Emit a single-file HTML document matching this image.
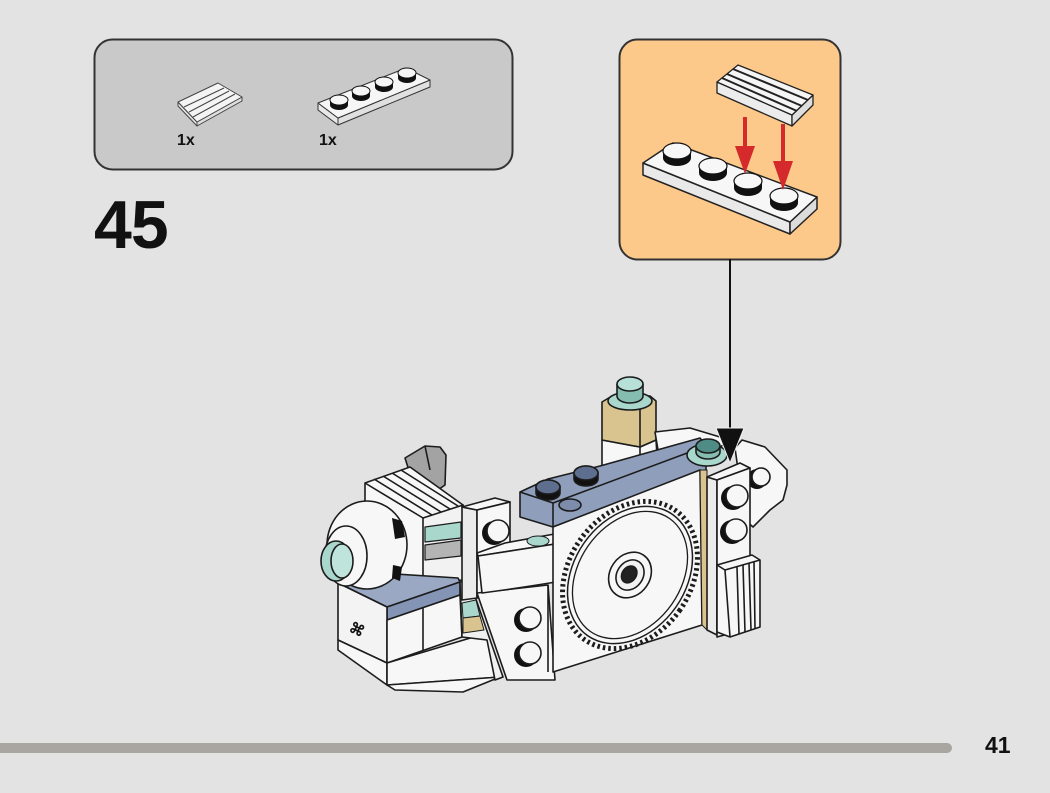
<!DOCTYPE html>
<html>
<head>
<meta charset="utf-8">
<style>
html,body{margin:0;padding:0;background:#e3e3e3;}
svg{display:block;}
text{font-family:"Liberation Sans",sans-serif;font-weight:bold;fill:#111;}
</style>
</head>
<body>
<svg width="1050" height="793" viewBox="0 0 1050 793" xmlns="http://www.w3.org/2000/svg">
<rect x="0" y="0" width="1050" height="793" fill="#e3e3e3"/>

<!-- Parts box -->
<rect x="94.5" y="39.5" width="418" height="130" rx="18" fill="#c9c9c9" stroke="#333" stroke-width="2"/>
<!-- grille tile small -->
<g stroke="#444" stroke-width="1" stroke-linejoin="round">
  <polygon points="178,102 197,122 197,126 178,106" fill="#e6e6e6"/>
  <polygon points="197,122 242,97 242,101 197,126" fill="#dedede"/>
  <polygon points="178,102 218,83 242,97 197,122" fill="#f4f4f4"/>
  <line x1="184" y1="107" x2="224" y2="88"/>
  <line x1="189" y1="112" x2="229" y2="91"/>
  <line x1="193" y1="117" x2="235" y2="94"/>
</g>
<!-- plate 1x4 small -->
<g stroke="#333" stroke-width="1" stroke-linejoin="round">
  <polygon points="318,103 338,118 338,125 318,110" fill="#e8e8e8"/>
  <polygon points="338,118 430,80 430,87 338,125" fill="#e0e0e0"/>
  <polygon points="318,103 406,68 430,80 338,118" fill="#f6f6f6"/>
</g>
<g>
  <g transform="translate(339,105)"><path d="M-9,0 v-5 a9,5 0 0 1 18,0 v5 a9,5 0 0 1 -18,0z" fill="#111"/><ellipse cx="0" cy="-5" rx="9" ry="5" fill="#f6f6f6" stroke="#111" stroke-width="1"/></g>
  <g transform="translate(361,96)"><path d="M-9,0 v-5 a9,5 0 0 1 18,0 v5 a9,5 0 0 1 -18,0z" fill="#111"/><ellipse cx="0" cy="-5" rx="9" ry="5" fill="#f6f6f6" stroke="#111" stroke-width="1"/></g>
  <g transform="translate(384,87)"><path d="M-9,0 v-5 a9,5 0 0 1 18,0 v5 a9,5 0 0 1 -18,0z" fill="#111"/><ellipse cx="0" cy="-5" rx="9" ry="5" fill="#f6f6f6" stroke="#111" stroke-width="1"/></g>
  <g transform="translate(407,78)"><path d="M-9,0 v-5 a9,5 0 0 1 18,0 v5 a9,5 0 0 1 -18,0z" fill="#111"/><ellipse cx="0" cy="-5" rx="9" ry="5" fill="#f6f6f6" stroke="#111" stroke-width="1"/></g>
</g>
<text x="177" y="145" font-size="16">1x</text>
<text x="319" y="145" font-size="16">1x</text>

<!-- Step number -->
<text x="94" y="248" font-size="68" letter-spacing="-1">45</text>

<!-- Callout -->
<rect x="619.5" y="39.5" width="221" height="220" rx="18" fill="#fdc98a" stroke="#333" stroke-width="2"/>
<!-- callout plate -->
<g stroke="#222" stroke-width="1.5" stroke-linejoin="round">
  <polygon points="643,163 790,222 790,234 643,175" fill="#e9e9e9"/>
  <polygon points="790,222 817,197 817,209 790,234" fill="#dcdcdc"/>
  <polygon points="643,163 673,143 817,197 790,222" fill="#f7f7f7"/>
</g>
<g>
  <g transform="translate(677,158)"><path d="M-14,0 v-7 a14,8 0 0 1 28,0 v7 a14,8 0 0 1 -28,0z" fill="#111"/><ellipse cx="0" cy="-7" rx="14" ry="8" fill="#f7f7f7" stroke="#111" stroke-width="1.2"/></g>
  <g transform="translate(713,173)"><path d="M-14,0 v-7 a14,8 0 0 1 28,0 v7 a14,8 0 0 1 -28,0z" fill="#111"/><ellipse cx="0" cy="-7" rx="14" ry="8" fill="#f7f7f7" stroke="#111" stroke-width="1.2"/></g>
  <g transform="translate(748,188)"><path d="M-14,0 v-7 a14,8 0 0 1 28,0 v7 a14,8 0 0 1 -28,0z" fill="#111"/><ellipse cx="0" cy="-7" rx="14" ry="8" fill="#f7f7f7" stroke="#111" stroke-width="1.2"/></g>
  <g transform="translate(784,203)"><path d="M-14,0 v-7 a14,8 0 0 1 28,0 v7 a14,8 0 0 1 -28,0z" fill="#111"/><ellipse cx="0" cy="-7" rx="14" ry="8" fill="#f7f7f7" stroke="#111" stroke-width="1.2"/></g>
</g>
<!-- callout grille tile -->
<g stroke="#222" stroke-width="1.3" stroke-linejoin="round">
  <polygon points="717,82 792,115 792,126 717,93" fill="#ececec"/>
  <polygon points="792,115 813,95 813,105 792,126" fill="#dedede"/>
  <polygon points="717,82 738,65 813,95 792,115" fill="#f5f5f5"/>
  <line x1="722" y1="78" x2="797" y2="111" stroke-width="2"/>
  <line x1="727" y1="74" x2="802" y2="106" stroke-width="2"/>
  <line x1="733" y1="69" x2="808" y2="100" stroke-width="2"/>
</g>
<!-- red arrows -->
<g fill="#d42a2c" stroke="none">
  <rect x="743" y="117" width="4" height="34"/>
  <polygon points="735,146 755,146 745,174"/>
  <rect x="781" y="124" width="4" height="42"/>
  <polygon points="773,161 793,161 783,190"/>
</g>

<!-- ===== Main model ===== -->
<g stroke="#1c1c1c" stroke-width="1.6" stroke-linejoin="round" fill="#f7f7f7">
  <!-- right rear wedge -->
  <polygon points="735,448 742,440 765,447 787,470 787,485 783,500 770,510 753,527 745,520"/>
  <circle cx="757" cy="479" r="10" fill="#111" stroke="none"/>
  <circle cx="761" cy="477" r="9"/>

  <!-- tan column + white base -->
  <polygon points="602,440 640,447 656,440 658,470 602,470"/>
  <polygon points="602,402 612,396 650,396 656,401 656,440 640,447 602,440" fill="#d9c48f"/>
  <line x1="640" y1="405" x2="640" y2="447"/>
  <line x1="640" y1="447" x2="640" y2="470"/>
  <!-- white top face right of tan -->
  <polygon points="655,432 690,428 730,440 705,458 660,462"/>
  <!-- trans stud on tan -->
  <ellipse cx="630" cy="401" rx="22" ry="9" fill="#a9d7cc"/>
  <path d="M617,384 v12 a13,7 0 0 0 26,0 v-12" fill="#86bdb1"/>
  <ellipse cx="630" cy="384" rx="13" ry="7" fill="#b7e1d8"/>

  <!-- blue plate -->
  <polygon points="520,492 548,479 600,466 700,438 706,446 706,470 553,527 520,517" fill="#8f9ebb"/>
  <line x1="520" y1="492" x2="553" y2="503"/>
  <line x1="553" y1="503" x2="553" y2="527"/>
  <line x1="553" y1="503" x2="706" y2="446"/>
  <!-- blue studs -->
  <g transform="translate(548,493)"><path d="M-12,0 v-6 a12,7 0 0 1 24,0 v6 a12,7 0 0 1 -24,0z" fill="#111"/><ellipse cx="0" cy="-6" rx="12" ry="7" fill="#5e6e8e"/></g>
  <g transform="translate(586,479)"><path d="M-12,0 v-6 a12,7 0 0 1 24,0 v6 a12,7 0 0 1 -24,0z" fill="#111"/><ellipse cx="0" cy="-6" rx="12" ry="7" fill="#5e6e8e"/></g>
  <ellipse cx="570" cy="505" rx="11" ry="6" fill="#7d8cab"/>

  <!-- grey clip behind grille -->
  <polygon points="405,458 425,446 440,447 446,455 445,485 435,492 412,480" fill="#a3a3a3"/>
  <line x1="425" y1="446" x2="430" y2="470"/>

  <!-- grille block -->
  <polygon points="365,483 410,467 463,505 463,580 423,583 365,565"/>
  <polygon points="423,518 463,505 463,580 423,583" fill="#f2f2f2"/>
  <line x1="365" y1="483" x2="423" y2="518"/>
  <line x1="374" y1="479" x2="432" y2="515"/>
  <line x1="383" y1="476" x2="441" y2="512"/>
  <line x1="392" y1="473" x2="450" y2="509"/>
  <line x1="401" y1="470" x2="458" y2="506"/>
  <polygon points="425,527 461,522 461,538 425,542" fill="#a9d7cc" stroke-width="1.2"/>
  <polygon points="425,545 461,540 461,556 425,560" fill="#b4b4b4" stroke-width="1.2"/>

  <!-- blue slab (left) -->
  <polygon points="338,583 365,572 458,578 460,582 387,607" fill="#9aa8c4"/>
  <polygon points="387,607 460,582 460,595 387,620" fill="#8394b4"/>

  <!-- left white block -->
  <polygon points="338,583 387,607 387,663 338,640" fill="#f3f3f3"/>
  <polygon points="387,620 460,595 462,637 387,663"/>
  <line x1="423" y1="608" x2="423" y2="650"/>
  <!-- symbol on left face -->
  <text x="350" y="634" font-size="15" fill="#222" stroke="none" transform="rotate(25 356 628)">⌘</text>
  <!-- lower hull -->
  <polygon points="338,640 387,663 387,685 338,650"/>
  <polygon points="387,663 487,633 500,677 387,685"/>
  <polygon points="387,685 500,677 463,692 395,690"/>

  <!-- slanted strip with tan/trans -->
  <polygon points="460,582 470,582 503,677 495,680 487,640 462,637" fill="#f0f0f0"/>
  <polygon points="462,603 476,600 480,616 463,618" fill="#a9d7cc" stroke-width="1"/>
  <polygon points="463,618 480,616 484,630 463,633" fill="#d9c48f" stroke-width="1"/>

  <!-- dome -->
  <ellipse cx="367" cy="545" rx="40" ry="44"/>
  <path d="M392,518 l10,3 l3,16 l-10,2 z" fill="#111" stroke="none"/>
  <path d="M393,565 l9,2 l-2,14 l-8,-3 z" fill="#111" stroke="none"/>
  <ellipse cx="346" cy="556" rx="21" ry="30"/>
  <ellipse cx="336" cy="561" rx="15" ry="20" fill="#a9d7cc"/>
  <ellipse cx="342" cy="561" rx="11" ry="17" fill="#bfe4dc"/>

  <!-- left vertical brick with stud -->
  <polygon points="462,507 477,510 477,598 462,600" fill="#ebebeb"/>
  <polygon points="462,507 495,498 510,502 477,510"/>
  <polygon points="477,510 510,502 510,595 477,598"/>
  <circle cx="494" cy="533" r="12" fill="#111" stroke="none"/>
  <circle cx="498" cy="531" r="11"/>

  <!-- lower panel with 2 studs -->
  <polygon points="477,593 548,585 555,680 507,680"/>
  <circle cx="526" cy="620" r="12" fill="#111" stroke="none"/>
  <circle cx="530" cy="618" r="11"/>
  <circle cx="526" cy="655" r="12" fill="#111" stroke="none"/>
  <circle cx="530" cy="653" r="11"/>

  <!-- curved slope arm -->
  <polygon points="477,553 505,543 560,533 568,542 478,556" />
  <path d="M478,556 L568,542 L568,580 Q520,588 482,593 Z"/>
  <ellipse cx="538" cy="541" rx="11" ry="5" fill="#a9d7cc" stroke-width="1"/>

  <!-- gear plate -->
  <polygon points="553,527 700,470 702,625 553,672"/>
  <line x1="548" y1="585" x2="548" y2="672"/>
  <!-- gear -->
  <g transform="rotate(35 630 575)">
    <ellipse cx="630" cy="575" rx="61" ry="79" fill="#f7f7f7" stroke="#1c1c1c" stroke-width="5" stroke-dasharray="2.5 3"/>
    <ellipse cx="630" cy="575" rx="56" ry="74" fill="#f7f7f7" stroke="#1c1c1c" stroke-width="1.5"/>
    <ellipse cx="630" cy="575" rx="51" ry="69" fill="none" stroke="#1c1c1c" stroke-width="1.3"/>
    <ellipse cx="630" cy="575" rx="20" ry="24" fill="#f7f7f7"/>
    <ellipse cx="630" cy="575" rx="13" ry="16" fill="#f1f1f1"/>
    <ellipse cx="629" cy="575" rx="7" ry="9" fill="#222"/>
  </g>

  <!-- tan strip -->
  <polygon points="700,470 707,470 707,630 702,625" fill="#d9c48f" stroke-width="1"/>

  <!-- right column -->
  <polygon points="707,477 717,480 717,635 707,630" fill="#ececec"/>
  <polygon points="707,477 740,463 750,468 717,480"/>
  <polygon points="717,480 750,468 750,628 717,637"/>
  <circle cx="733" cy="498" r="12" fill="#111" stroke="none"/>
  <circle cx="737" cy="496" r="11"/>
  <circle cx="732" cy="532" r="12" fill="#111" stroke="none"/>
  <circle cx="736" cy="530" r="11"/>

  <!-- grille tile at bottom right -->
  <polygon points="717,565 752,555 760,560 760,627 730,637 717,632"/>
  <line x1="717" y1="565" x2="725" y2="570"/>
  <line x1="725" y1="570" x2="760" y2="560"/>
  <line x1="725" y1="570" x2="730" y2="637"/>
  <line x1="737" y1="567" x2="739" y2="634"/>
  <line x1="743" y1="565" x2="745" y2="632"/>
  <line x1="749" y1="563" x2="751" y2="630"/>
  <line x1="754" y1="562" x2="755" y2="629"/>

  <!-- trans stud near arrow -->
  <ellipse cx="707" cy="455" rx="20" ry="11" fill="#a9d7cc"/>
  <path d="M696,446 v6 a12,7 0 0 0 24,0 v-6" fill="#86bdb1"/>
  <ellipse cx="708" cy="446" rx="12" ry="7" fill="#4f8c85"/>
</g>

<!-- connector line and arrow -->
<line x1="730" y1="259" x2="730" y2="435" stroke="#111" stroke-width="2"/>
<polygon points="716,428 744,428 730,463" fill="#111" stroke="#f3f3f3" stroke-width="1"/>

<!-- bottom bar -->
<rect x="-10" y="743" width="962" height="10" rx="5" fill="#a9a5a1"/>
<text x="985" y="753" font-size="23">41</text>
</svg>
</body>
</html>
